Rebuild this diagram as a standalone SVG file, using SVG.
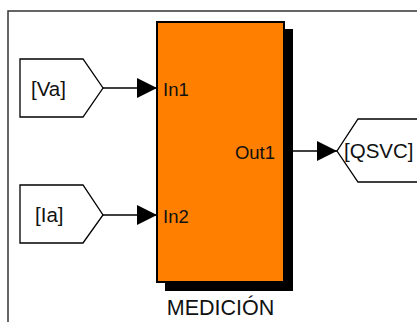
<svg xmlns="http://www.w3.org/2000/svg" width="417" height="322" viewBox="0 0 417 322">
<style>
.t{font-family:"Liberation Sans",Arial,sans-serif;fill:#111;}
.goto{fill:#fff;stroke:#000;stroke-width:1.3;}
.wire{stroke:#000;stroke-width:1.3;fill:none;}
</style>
<defs>
<marker id="ah" markerWidth="20" markerHeight="20" refX="20" refY="10" orient="auto" markerUnits="userSpaceOnUse">
<path d="M0,0 L20,10 L0,20 Z" fill="#000"/>
</marker>
</defs>
<rect width="417" height="322" fill="#fff"/>
<path d="M8,330 L8,11 L420,11" fill="none" stroke="#333" stroke-width="1.5"/>
<g id="va">
<polygon class="goto" points="20,59 83,59 103,88 83,117 20,117"/>
<text class="t" x="31" y="96" font-size="20.5">[Va]</text>
</g>
<g id="ia">
<polygon class="goto" points="20,185 83,185 103,215 83,243 20,243"/>
<text class="t" x="35" y="222" font-size="20.5">[Ia]</text>
</g>
<g id="medicion">
<rect x="165" y="29" width="128" height="262" fill="#000"/>
<rect x="157" y="22" width="127" height="260" fill="#FF8000" stroke="#000" stroke-width="2"/>
<text class="t" x="163" y="96" font-size="18.5">In1</text>
<text class="t" x="163" y="223" font-size="18.5">In2</text>
<text class="t" x="275" y="159" font-size="18.5" text-anchor="end">Out1</text>
<text class="t" x="220.5" y="315" font-size="21.5" text-anchor="middle">MEDICIÓN</text>
</g>
<g id="qsvc">
<polygon class="goto" points="420,119 358,119 337,151 358,182 420,182"/>
<text class="t" x="344" y="158" font-size="20.5">[QSVC]</text>
</g>
<g id="connectors">
<line class="wire" x1="103" y1="88" x2="157" y2="88" marker-end="url(#ah)"/>
<line class="wire" x1="103" y1="215" x2="157" y2="215" marker-end="url(#ah)"/>
<line class="wire" x1="293" y1="151" x2="337" y2="151" marker-end="url(#ah)"/>
</g>
</svg>
